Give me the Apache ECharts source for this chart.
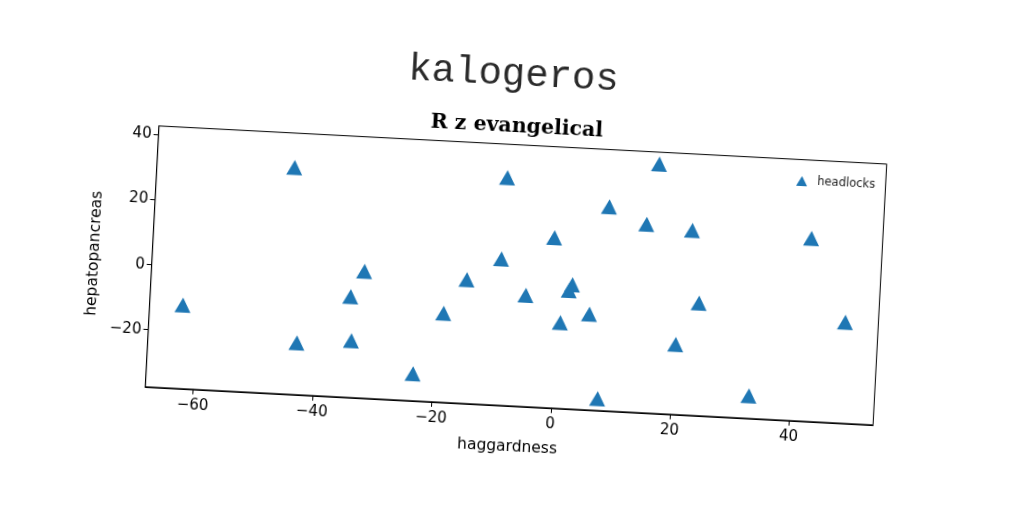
<!DOCTYPE html>
<html>
<head>
<meta charset="utf-8">
<script src="https://cdn.jsdelivr.net/npm/echarts@6/dist/echarts.min.js"></script>
<style>
  html, body { margin: 0; padding: 0; background: #ffffff; overflow: hidden; }
  #chart { width: 1024px; height: 512px; transform: rotate(3deg); transform-origin: 512px 256px; }
</style>
</head>
<body>
<div id="chart"></div>
<script>
// ---- data ----
const seriesName = 'headlocks';
const xValues = [-62.5, -45.0, -43.1, -34.5, -34.0, -32.4, -23.4, -18.8, -15.2, -9.6, -9.3, -5.2, -0.9, 0.8, 2.0, 2.5, 5.6, 7.7, 8.0, 14.4, 16.0, 20.3, 22.1, 23.85, 33.0, 42.1, 48.5];
const yValues = [-11.85, 32.15, -21.6, -6.56, -20.1, 1.4, -29.2, -10.2, 0.5, 7.4, 32.5, -3.35, 14.8, -11.2, -1.2, 0.65, -8.1, -33.9, 25.2, 20.4, 39.1, -16.0, 19.3, -2.95, -30.65, 18.7, -6.45];
const xTicks = [-60, -40, -20, 0, 20, 40];
const yTicks = [-20, 0, 20, 40];
const titleText = 'kalogeros';
const subtitleText = 'R z evangelical';
const xLabel = 'haggardness';
const yLabel = 'hepatopancreas';

const points = xValues.map((x, i) => [x, yValues[i]]);
const fmt = v => String(v).replace('-', '\u2212');

const chart = echarts.init(document.getElementById('chart'), null, { renderer: 'canvas' });
chart.setOption({
  backgroundColor: 'transparent',
  animation: false,
  title: [
    { text: titleText, left: 499, top: 70, textAlign: 'center', textVerticalAlign: 'middle',
      textStyle: { fontFamily: 'Liberation Mono', fontSize: 39, fontWeight: 'normal', color: '#2a2a2a' } },
    { text: subtitleText, left: 505, top: 122, textAlign: 'center', textVerticalAlign: 'middle',
      textStyle: { fontFamily: 'DejaVu Serif', fontSize: 20.5, fontWeight: 'bold', color: '#000' } }
  ],
  legend: {
    data: [seriesName], left: 787, top: 155, icon: 'triangle', itemWidth: 11, itemHeight: 10,
    textStyle: { fontFamily: 'DejaVu Sans', fontSize: 11.5, color: '#222', padding: [0, 0, 0, 5] }
  },
  grid: { left: 152.7, top: 144.6, width: 728.7, height: 261.2, show: true, borderColor: '#000', borderWidth: 1, containLabel: false },
  xAxis: {
    type: 'value', min: -68.05, max: 54.05,
    name: xLabel, nameLocation: 'middle', nameGap: 33,
    nameTextStyle: { fontFamily: 'DejaVu Sans', fontSize: 15.5, color: '#000' },
    axisLine: { show: true, onZero: false, lineStyle: { color: '#000', width: 1 } },
    axisTick: { show: true, length: 5, customValues: xTicks, lineStyle: { color: '#000' } },
    axisLabel: { customValues: xTicks, formatter: fmt, margin: 9, fontFamily: 'DejaVu Sans', fontSize: 15, color: '#000' },
    splitLine: { show: false }
  },
  yAxis: {
    type: 'value', min: -37.55, max: 42.75,
    name: yLabel, nameLocation: 'middle', nameGap: 47, nameRotate: 90,
    nameTextStyle: { fontFamily: 'DejaVu Sans', fontSize: 15.5, color: '#000' },
    axisLine: { show: true, onZero: false, lineStyle: { color: '#000', width: 1 } },
    axisTick: { show: true, length: 5, customValues: yTicks, lineStyle: { color: '#000' } },
    axisLabel: { customValues: yTicks, formatter: fmt, margin: 7, fontFamily: 'DejaVu Sans', fontSize: 15, color: '#000' },
    splitLine: { show: false }
  },
  series: [{
    name: seriesName, type: 'scatter', symbol: 'triangle', symbolSize: [16, 15],
    itemStyle: { color: '#1f77b4', opacity: 1 },
    data: points
  }]
});
</script>
</body>
</html>
